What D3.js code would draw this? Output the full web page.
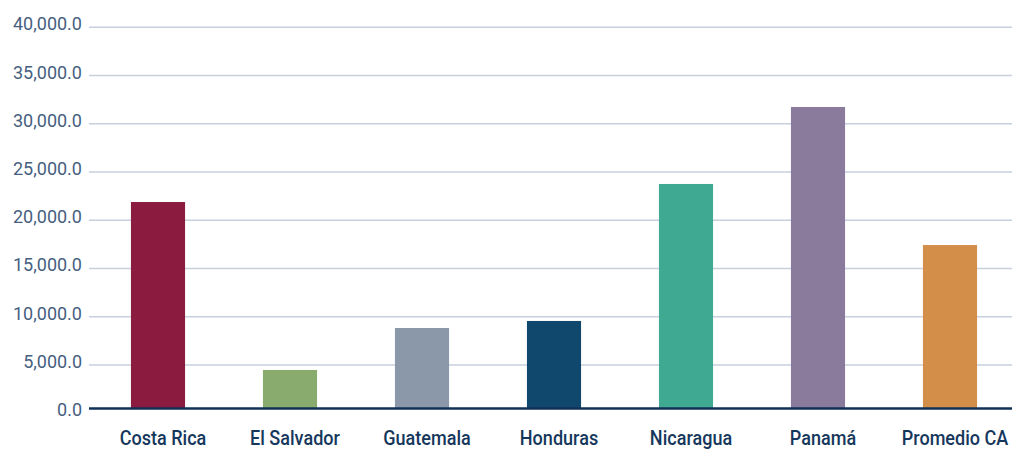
<!DOCTYPE html>
<html>
<head>
<meta charset="utf-8">
<script src="https://cdn.jsdelivr.net/npm/d3@7"></script>
<style>
  html, body { margin: 0; padding: 0; background: #ffffff; }
  svg { display: block; }
</style>
</head>
<body>
<svg id="chart" width="1012" height="450"></svg>
<script>
// Countries and the regional average
const categories = ["Costa Rica", "El Salvador", "Guatemala", "Honduras", "Nicaragua", "Panamá", "Promedio CA"];
const values = [21890, 4480, 8830, 9560, 23760, 31740, 17430];
const colors = ["#8b1c40", "#8aab6e", "#8a98aa", "#10486d", "#40a991", "#8a7a9b", "#d38e4a"];
const yTicks = [0, 5000, 10000, 15000, 20000, 25000, 30000, 35000, 40000];

const svg = d3.select("#chart");
const left = 89, right = 1012;

const y = d3.scaleLinear().domain([0, 40000]).range([413.2, 27.3]);
const x = d3.scaleBand().domain(categories).range([92, 1016]).padding(0);
const barW = x.bandwidth() * 0.41;
const baseY = y(0) - 4.7;

const fmt = d3.format(",.1f");

// horizontal gridlines
svg.append("g")
  .selectAll("line")
  .data(yTicks.filter(t => t > 0))
  .join("line")
  .attr("x1", left).attr("x2", right)
  .attr("y1", d => y(d)).attr("y2", d => y(d))
  .attr("stroke", "#c8d0de")
  .attr("stroke-width", 1.5);

// y-axis tick labels
svg.append("g")
  .selectAll("text")
  .data(yTicks)
  .join("text")
  .attr("x", 82)
  .attr("y", d => y(d) + 3)
  .attr("text-anchor", "end")
  .attr("font-family", "Roboto, sans-serif")
  .attr("font-size", 18)
  .attr("fill", "#46607f")
  .text(d => fmt(d));

// bars
svg.append("g")
  .selectAll("rect")
  .data(values)
  .join("rect")
  .attr("x", (d, i) => x(categories[i]) + x.bandwidth() / 2 - barW / 2)
  .attr("width", barW)
  .attr("y", d => y(d))
  .attr("height", d => baseY - y(d))
  .attr("fill", (d, i) => colors[i]);

// baseline
svg.append("line")
  .attr("x1", left).attr("x2", right)
  .attr("y1", baseY).attr("y2", baseY)
  .attr("stroke", "#0f3157")
  .attr("stroke-width", 2.5);

// category labels
svg.append("g")
  .selectAll("text")
  .data(categories)
  .join("text")
  .attr("transform", d => `translate(${x(d) + x.bandwidth() / 2 + 5},445) scale(0.86,1)`)
  .attr("text-anchor", "middle")
  .attr("font-family", "Roboto, sans-serif")
  .attr("font-weight", 500)
  .attr("font-size", 21)
  .attr("fill", "#16375c")
  .text(d => d);
</script>
</body>
</html>
